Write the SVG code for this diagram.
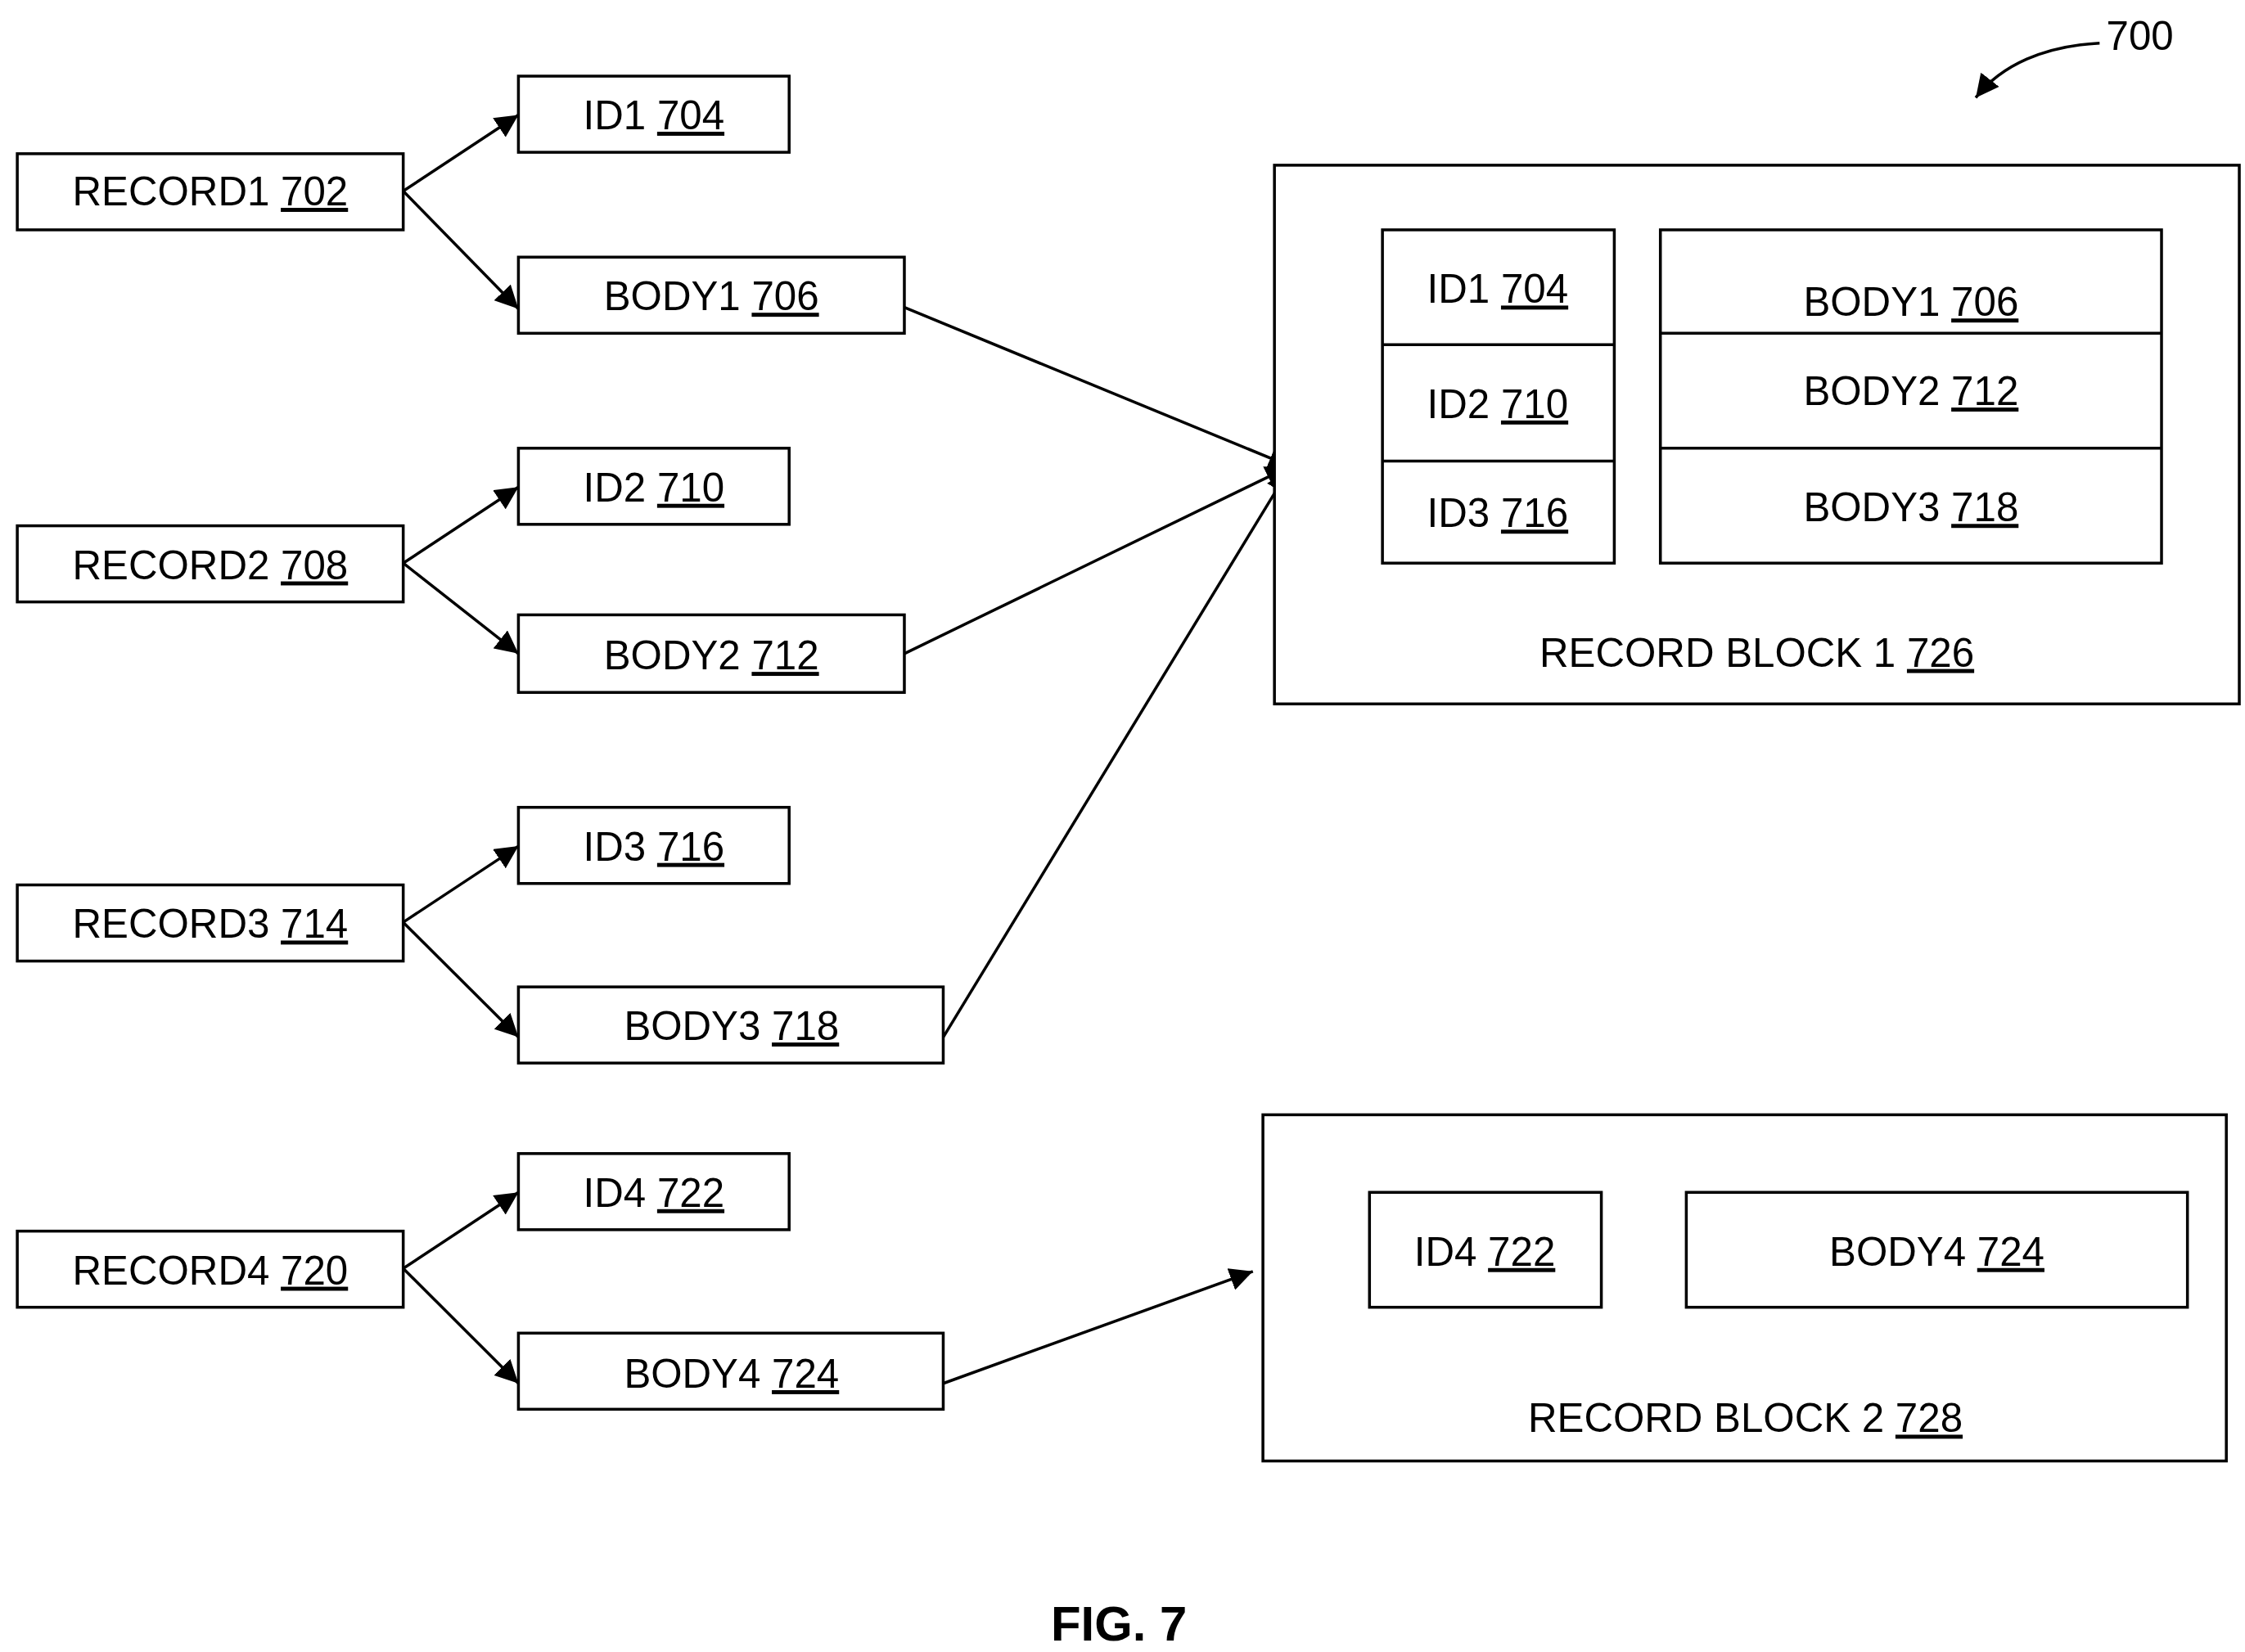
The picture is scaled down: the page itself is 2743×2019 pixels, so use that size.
<svg xmlns="http://www.w3.org/2000/svg" width="2743" height="2019" viewBox="0 0 2743 2019">
<style>
rect{fill:#fff;stroke:#000;stroke-width:2}
line,path{stroke:#000;stroke-width:2;fill:none}
text{font-family:"Liberation Sans Narrow","Liberation Sans",sans-serif;font-stretch:condensed;font-size:28px;text-anchor:middle;fill:#000}
.u{text-decoration:underline}
</style>
<defs><marker id="a" viewBox="0 0 10 10" refX="10" refY="5" markerWidth="8" markerHeight="8" markerUnits="userSpaceOnUse" orient="auto"><path d="M0,0 L10,5 L0,10 z" style="fill:#000;stroke:none"/></marker>
<marker id="b" viewBox="0 0 10 10" refX="10" refY="5" markerWidth="16" markerHeight="16" markerUnits="userSpaceOnUse" orient="auto"><path d="M0,0 L10,5 L0,10 z" style="fill:#000;stroke:none"/></marker></defs>
<rect x="0" y="0" width="2743" height="2019" style="stroke:none"/>
<g transform="scale(1.7595,1.7557)">
<g id="connectors">
<line x1="280" y1="133" x2="360" y2="80" marker-end="url(#b)"/>
<line x1="280" y1="133" x2="360" y2="215" marker-end="url(#b)"/>
<line x1="280" y1="392" x2="360" y2="339" marker-end="url(#b)"/>
<line x1="280" y1="392" x2="360" y2="455" marker-end="url(#b)"/>
<line x1="280" y1="642" x2="360" y2="589" marker-end="url(#b)"/>
<line x1="280" y1="642" x2="360" y2="722" marker-end="url(#b)"/>
<line x1="280" y1="883" x2="360" y2="830" marker-end="url(#b)"/>
<line x1="280" y1="883" x2="360" y2="963" marker-end="url(#b)"/>
<line x1="628" y1="214" x2="897" y2="325" marker-end="url(#b)"/>
<line x1="628" y1="455" x2="895" y2="325" marker-end="url(#b)"/>
<line x1="655" y1="722" x2="895" y2="327" marker-end="url(#b)"/>
<line x1="655" y1="963" x2="870" y2="885" marker-end="url(#b)"/>
<path d="M1458,30 C1420,32 1390,45 1372,68" marker-end="url(#b)"/>
</g>
<g id="r1"><rect x="12" y="107" width="268" height="53"/><text x="146" y="143">RECORD1 <tspan class="u">702</tspan></text></g>
<g id="id1"><rect x="360" y="53" width="188" height="53"/><text x="454" y="90">ID1 <tspan class="u">704</tspan></text></g>
<g id="b1"><rect x="360" y="179" width="268" height="53"/><text x="494" y="216">BODY1 <tspan class="u">706</tspan></text></g>
<g id="r2"><rect x="12" y="366" width="268" height="53"/><text x="146" y="403">RECORD2 <tspan class="u">708</tspan></text></g>
<g id="id2"><rect x="360" y="312" width="188" height="53"/><text x="454" y="349">ID2 <tspan class="u">710</tspan></text></g>
<g id="b2"><rect x="360" y="428" width="268" height="54"/><text x="494" y="466">BODY2 <tspan class="u">712</tspan></text></g>
<g id="r3"><rect x="12" y="616" width="268" height="53"/><text x="146" y="653">RECORD3 <tspan class="u">714</tspan></text></g>
<g id="id3"><rect x="360" y="562" width="188" height="53"/><text x="454" y="599">ID3 <tspan class="u">716</tspan></text></g>
<g id="b3"><rect x="360" y="687" width="295" height="53"/><text x="508" y="724">BODY3 <tspan class="u">718</tspan></text></g>
<g id="r4"><rect x="12" y="857" width="268" height="53"/><text x="146" y="894">RECORD4 <tspan class="u">720</tspan></text></g>
<g id="id4"><rect x="360" y="803" width="188" height="53"/><text x="454" y="840">ID4 <tspan class="u">722</tspan></text></g>
<g id="b4"><rect x="360" y="928" width="295" height="53"/><text x="508" y="966">BODY4 <tspan class="u">724</tspan></text></g>
<g id="block1"><rect x="885" y="115" width="670" height="375"/>
<rect x="960" y="160" width="161" height="232"/><line x1="960" y1="240" x2="1121" y2="240"/><line x1="960" y1="321" x2="1121" y2="321"/>
<rect x="1153" y="160" width="348" height="232"/><line x1="1153" y1="232" x2="1501" y2="232"/><line x1="1153" y1="312" x2="1501" y2="312"/>
<text x="1040" y="211">ID1 <tspan class="u">704</tspan></text>
<text x="1040" y="291">ID2 <tspan class="u">710</tspan></text>
<text x="1040" y="367">ID3 <tspan class="u">716</tspan></text>
<text x="1327" y="220">BODY1 <tspan class="u">706</tspan></text>
<text x="1327" y="282">BODY2 <tspan class="u">712</tspan></text>
<text x="1327" y="363">BODY3 <tspan class="u">718</tspan></text>
<text x="1220" y="464">RECORD BLOCK 1 <tspan class="u">726</tspan></text></g>
<g id="block2"><rect x="877" y="776" width="669" height="241"/>
<rect x="951" y="830" width="161" height="80"/><rect x="1171" y="830" width="348" height="80"/>
<text x="1031" y="881">ID4 <tspan class="u">722</tspan></text>
<text x="1345" y="881">BODY4 <tspan class="u">724</tspan></text>
<text x="1212" y="997">RECORD BLOCK 2 <tspan class="u">728</tspan></text></g>
<g id="label700"><text x="1486" y="35">700</text></g>
<text x="777" y="1142" style="font-family:'Liberation Sans',sans-serif;font-stretch:normal;font-weight:bold;font-size:34px">FIG. 7</text>
</g>
</svg>
